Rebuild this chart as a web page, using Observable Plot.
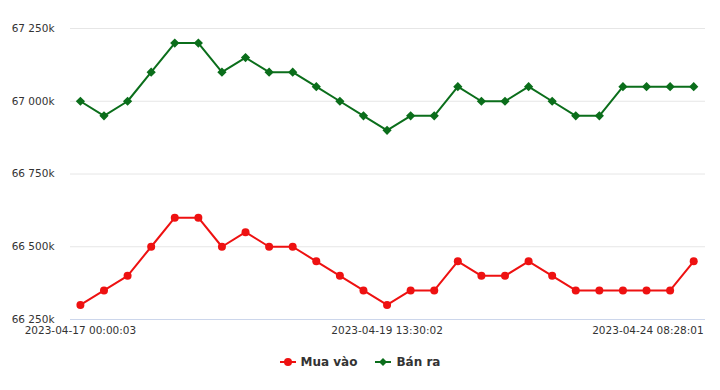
<!DOCTYPE html>
<html>
<head>
<meta charset="utf-8">
<script src="https://cdn.jsdelivr.net/npm/d3@7"></script>
<script src="https://cdn.jsdelivr.net/npm/@observablehq/plot@0.6"></script>
<style>
  body { margin: 0; background: #fff; font-family: "DejaVu Sans", Verdana, sans-serif; }
  #chart { width: 720px; }
  .legend { display: flex; justify-content: center; gap: 18px; font-size: 12px; font-weight: bold; color: #333; margin-top: 10px; }
  .legend span { display: inline-flex; align-items: center; gap: 5px; }
</style>
</head>
<body>
<div id="chart"></div>
<script>
const seriesNames = ["Mua vào", "Bán ra"];
const seriesColors = ["#ee1111", "#0b6e1b"];
const muaVao = [66300, 66350, 66400, 66500, 66600, 66600, 66500, 66550, 66500, 66500, 66450, 66400, 66350, 66300, 66350, 66350, 66450, 66400, 66400, 66450, 66400, 66350, 66350, 66350, 66350, 66350, 66450];
const banRa = [67000, 66950, 67000, 67100, 67200, 67200, 67100, 67150, 67100, 67100, 67050, 67000, 66950, 66900, 66950, 66950, 67050, 67000, 67000, 67050, 67000, 66950, 66950, 67050, 67050, 67050, 67050];
const tickIndex = [0, 13, 26];
const tickLabels = ["2023-04-17 00:00:03", "2023-04-19 13:30:02", "2023-04-24 08:28:01"];
const yTicks = [66250, 66500, 66750, 67000, 67250];

const rows = [];
muaVao.forEach((v, i) => rows.push({i, v, s: seriesNames[0]}));
banRa.forEach((v, i) => rows.push({i, v, s: seriesNames[1]}));
const buy = rows.filter(d => d.s === seriesNames[0]);
const sell = rows.filter(d => d.s === seriesNames[1]);

const fmtY = v => d3.format(",")(v).replace(/,/g, " ") + "k";
const fmtX = i => tickLabels[tickIndex.indexOf(i)] || "";

const plot = Plot.plot({
  width: 720,
  height: 345,
  marginLeft: 70,
  marginRight: 15,
  marginTop: 28,
  marginBottom: 26,
  style: {fontFamily: "DejaVu Sans, Verdana, sans-serif", fontSize: "10.5px", color: "#333"},
  x: {domain: [-0.42, 26.5], axis: null, label: null},
  y: {domain: [66250, 67250], axis: null, label: null},
  marks: [
    Plot.ruleY(yTicks.slice(1), {stroke: "#e6e6e6", strokeWidth: 1}),
    Plot.ruleY([yTicks[0]], {stroke: "#ccd6eb", strokeWidth: 1}),
    Plot.axisY({ticks: yTicks, tickSize: 0, tickPadding: 16, tickFormat: fmtY, fill: "#333", fontSize: 10.5, label: null}),
    Plot.text(tickIndex.slice(0, 2), {x: d => d, y: () => yTicks[0], text: fmtX, dy: 7, lineAnchor: "top", textAnchor: "middle", fill: "#333", fontSize: 10.5}),
    Plot.text(tickIndex.slice(2), {x: d => d, y: () => yTicks[0], text: fmtX, dy: 7, dx: 10, lineAnchor: "top", textAnchor: "end", fill: "#333", fontSize: 10.5}),
    Plot.line(sell, {x: "i", y: "v", stroke: seriesColors[1], strokeWidth: 2}),
    Plot.dot(sell, {x: "i", y: "v", symbol: "diamond2", fill: seriesColors[1], stroke: seriesColors[1], r: 3.2}),
    Plot.line(buy, {x: "i", y: "v", stroke: seriesColors[0], strokeWidth: 2}),
    Plot.dot(buy, {x: "i", y: "v", fill: seriesColors[0], r: 4})
  ]
});
document.getElementById("chart").appendChild(plot);

const legend = document.createElement("div");
legend.className = "legend";
legend.innerHTML = `
<span><svg width="16" height="10"><line x1="0" y1="5" x2="16" y2="5" stroke="${seriesColors[0]}" stroke-width="2"/><circle cx="8" cy="5" r="4" fill="${seriesColors[0]}"/></svg>${seriesNames[0]}</span>
<span><svg width="16" height="10"><line x1="0" y1="5" x2="16" y2="5" stroke="${seriesColors[1]}" stroke-width="2"/><path d="M8 1 L12 5 L8 9 L4 5 Z" fill="${seriesColors[1]}"/></svg>${seriesNames[1]}</span>`;
document.getElementById("chart").appendChild(legend);
</script>
</body>
</html>
